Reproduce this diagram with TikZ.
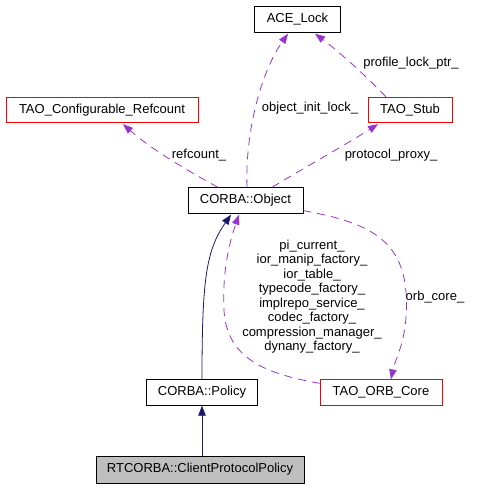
\documentclass[tikz,border=0pt]{standalone}
\usepackage{fontspec}
\setmainfont{Liberation Sans}
\usetikzlibrary{arrows.meta,calc}
\definecolor{usecol}{HTML}{9A32CD}
\definecolor{inhcol}{HTML}{191970}
\definecolor{boxgrey}{HTML}{BFBFBF}
\begin{document}
\begin{tikzpicture}[x=1pt,y=-1pt,
  every node/.style={font=\fontsize{13}{14.5}\selectfont},
  cls/.style={draw=black,line width=0.8pt,rectangle,inner sep=0pt,minimum height=25.5pt},
  redcls/.style={cls,draw=red},
  usage/.style={draw=usecol,line width=0.8pt,dash pattern=on 8pt off 6pt,-{Triangle[length=10pt,width=7.5pt,fill=usecol]}},
  inherit/.style={draw=inhcol,line width=0.8pt,-{Triangle[length=10pt,width=7.5pt,fill=inhcol]}},
  lbl/.style={inner sep=0pt,align=center}]
\useasboundingbox (0,0) rectangle (487,488);
% nodes
\node[cls,minimum width=85.5pt] (ace) at (297.5,19.5) {ACE\_Lock};
\node[redcls,minimum width=192pt] (ref) at (102,110) {TAO\_Configurable\_Refcount};
\node[redcls,minimum width=84pt] (stub) at (410,110) {TAO\_Stub};
\node[cls,minimum width=115pt] (obj) at (245.5,200.5) {CORBA::Object};
\node[cls,minimum width=111.5pt] (pol) at (202,392.5) {CORBA::Policy};
\node[redcls,minimum width=122pt] (orb) at (381,392.5) {TAO\_ORB\_Core};
\node[cls,fill=boxgrey,minimum width=208pt,minimum height=27pt] (cli) at (200,469.5) {RTCORBA::ClientProtocolPolicy};
% inheritance
\draw[inherit] (cli.north -| pol.south) -- (pol.south);
\draw[inherit] (pol.north) .. controls ($(pol.north)+(0,-100)$) and ($(obj.south)+(-39.5,37)$) .. ($(obj.south)+(-14.5,1)$);
% usage
\draw[usage] ($(orb.north west)+(0,4)$) .. controls ($(orb.north west)+(-50,-5)$) and ($(obj.south)+(-18.5,147)$) .. ($(obj.south)+(-21.5,97)$)
  .. controls ($(obj.south)+(-23.5,57)$) and ($(obj.south)+(-15.5,27)$) .. ($(obj.south)+(-6.5,1)$);
\draw[usage] ($(obj.south east)+(0,-3)$) .. controls ($(obj.south east)+(67,9)$) and ($(obj.south east)+(102,27)$) .. ($(obj.south east)+(103,87)$)
  .. controls ($(obj.south east)+(104,127)$) and ($(orb.north)+(14,-20)$) .. ($(orb.north)+(10,0)$);
\draw[usage] ($(obj.north)+(1.5,0)$) .. controls ($(obj.north)+(-0.5,-58)$) and ($(ace.south)+(-35.5,38)$) .. ($(ace.south)+(-9.5,1)$);
\draw[usage] ($(stub.north)+(-24,0)$) .. controls ($(stub.north)+(-50,-27)$) and ($(ace.south)+(37.5,16)$) .. ($(ace.south)+(17.5,1)$);
\draw[usage] ($(obj.north)+(-27.5,0)$) .. controls ($(obj.north)+(-60.5,-18)$) and ($(ref.south)+(48,25)$) .. ($(ref.south)+(21,1)$);
\draw[usage] ($(obj.north)+(26.5,0)$) .. controls ($(obj.north)+(59.5,-20)$) and ($(stub.south)+(-65,22)$) .. ($(stub.south)+(-32,1)$);
% labels
\node[lbl] (l1) at (310,108) {object\_init\_lock\_};
\node[lbl] (l2) at (411,63) {profile\_lock\_ptr\_};
\node[lbl] (l3) at (199,155) {refcount\_};
\node[lbl] (l4) at (391,155) {protocol\_proxy\_};
\node[lbl] (l5) at (435,297) {orb\_core\_};
\node[lbl] (l6) at (312,296.5) {pi\_current\_\\ior\_manip\_factory\_\\ior\_table\_\\typecode\_factory\_\\implrepo\_service\_\\codec\_factory\_\\compression\_manager\_\\dynany\_factory\_};
\end{tikzpicture}
\end{document}
